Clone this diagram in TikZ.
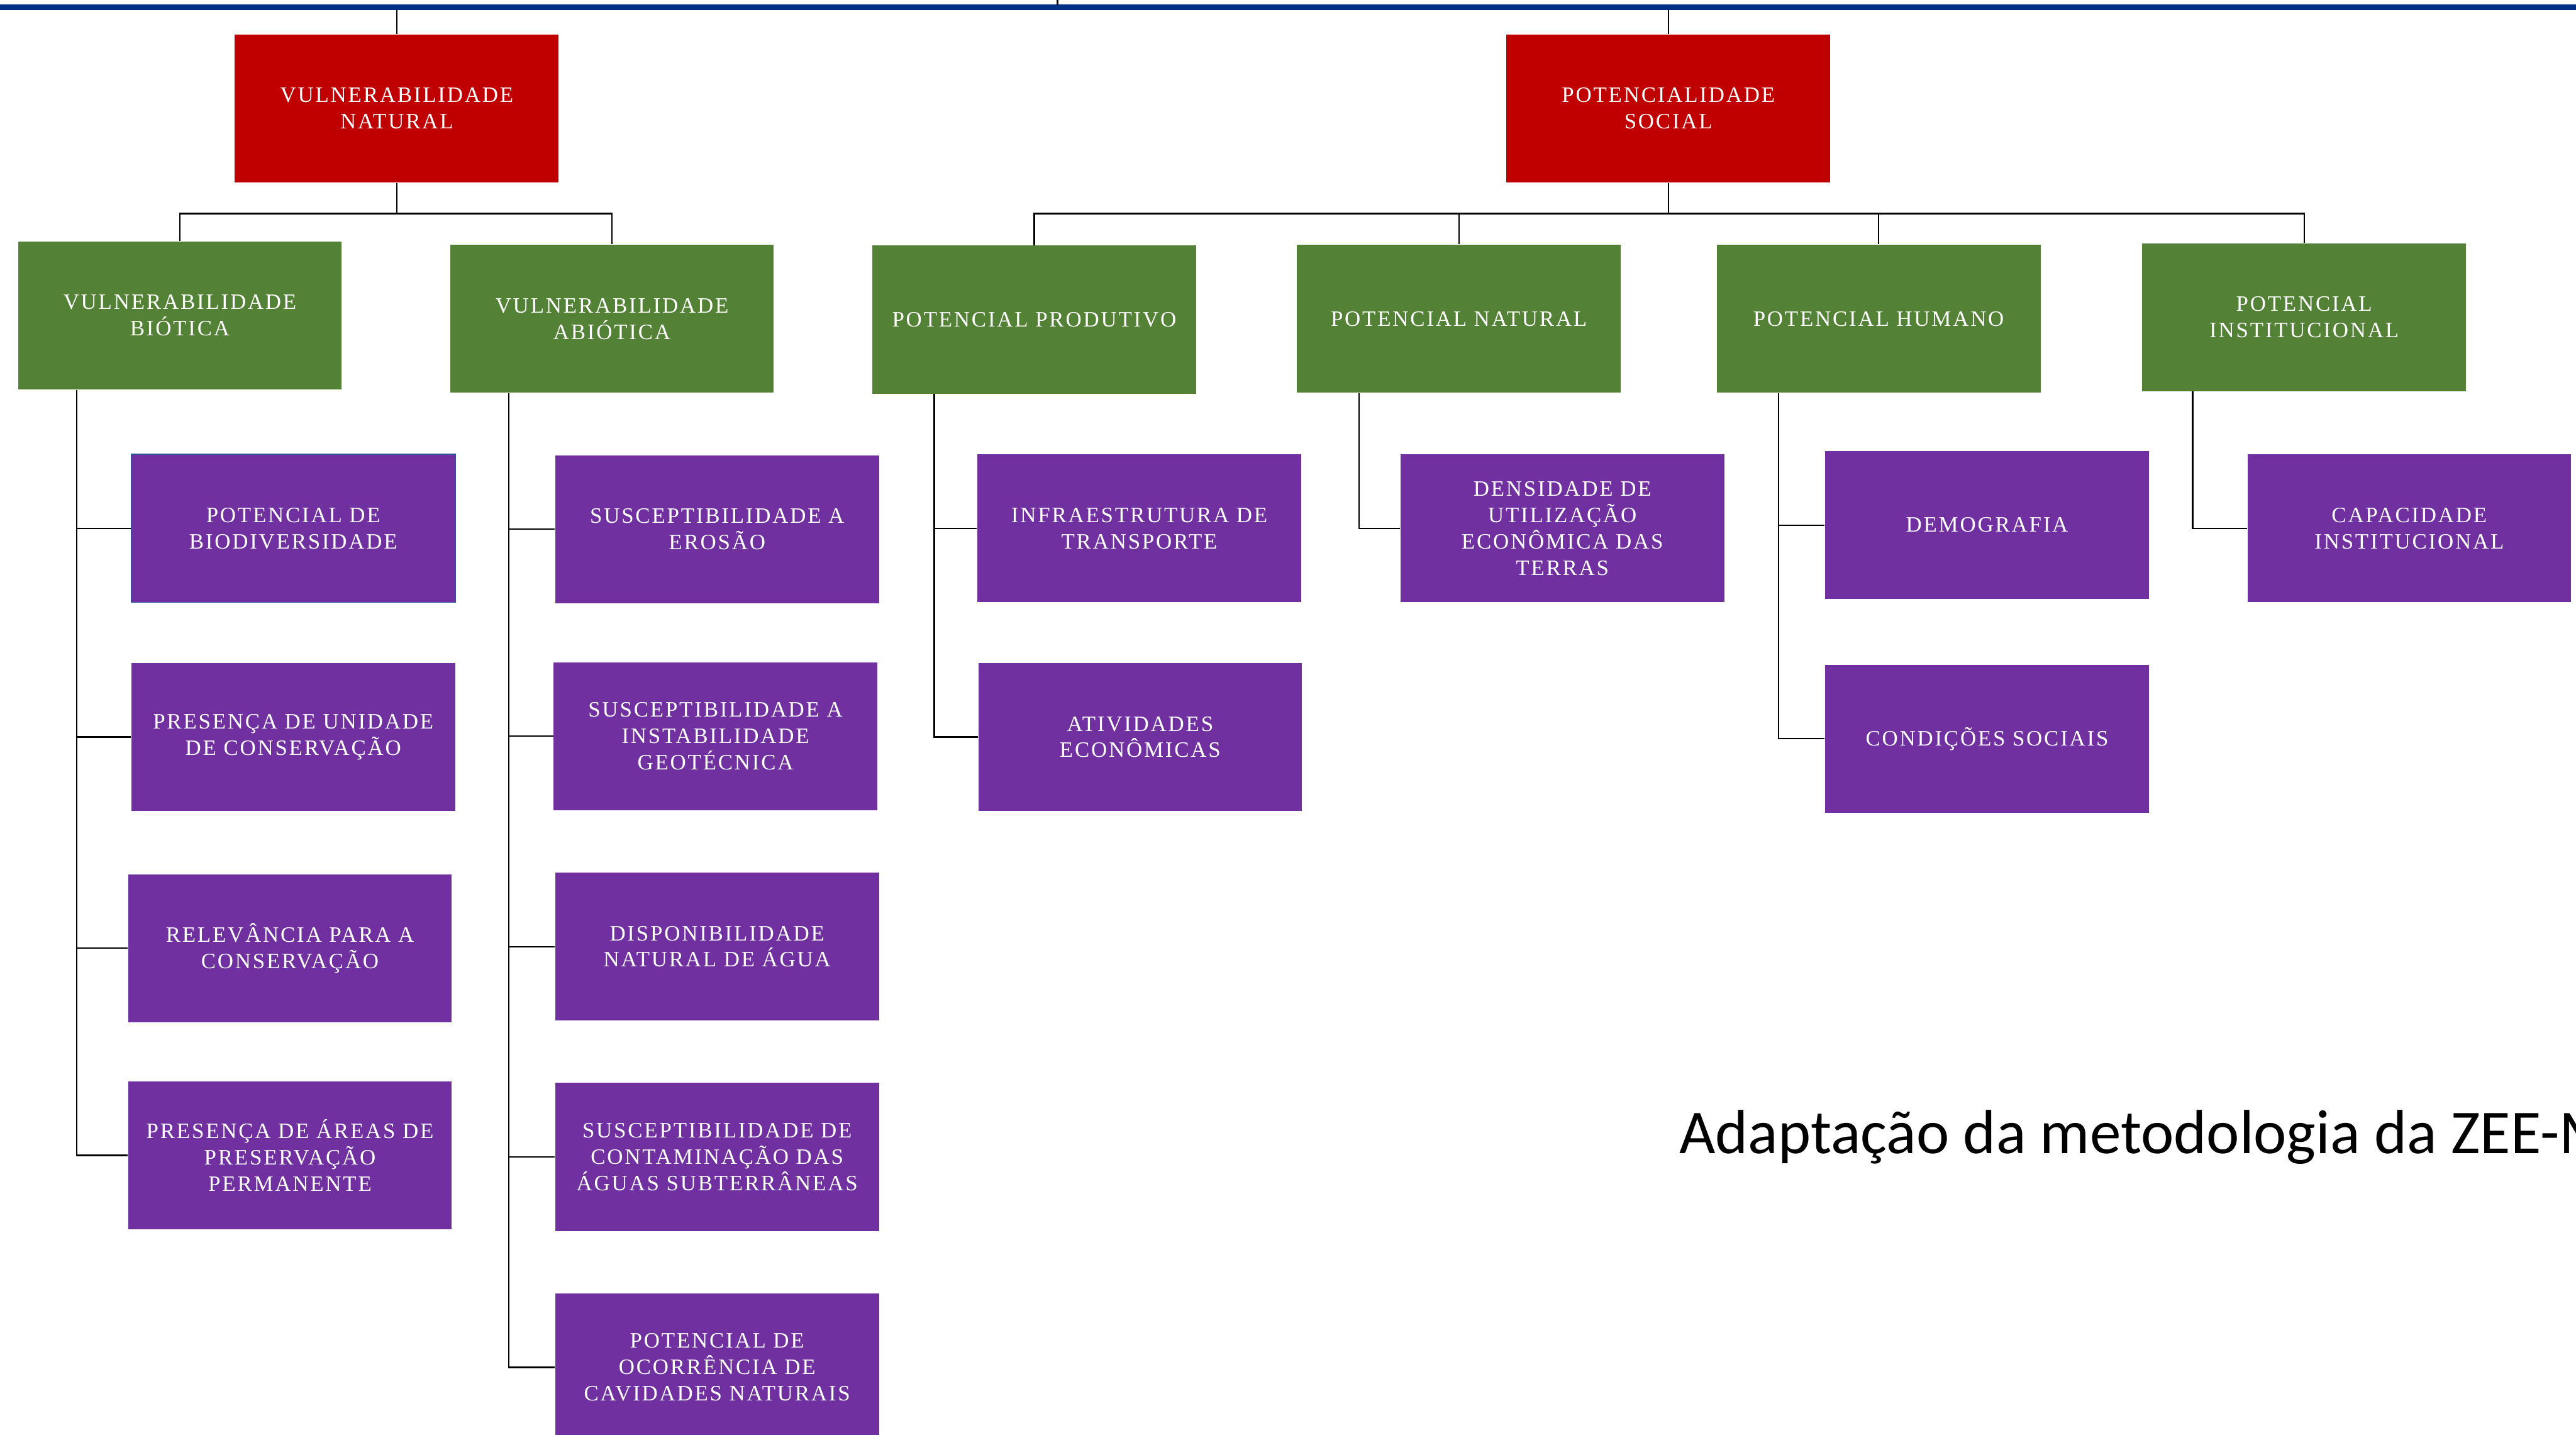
\documentclass[tikz,border=0pt]{standalone}
\usepackage{fontspec}
\usepackage{tikz}
\usetikzlibrary{positioning,calc}
\setmainfont{Liberation Serif}
\newfontfamily\boxfont[LetterSpace=8]{Liberation Serif}
\newfontfamily\notefont{Carlito}
\definecolor{barblue}{HTML}{002F87}
\definecolor{topred}{HTML}{C00000}
\definecolor{midgreen}{HTML}{538135}
\definecolor{leafpurple}{HTML}{7030A0}
\definecolor{edgeblue}{HTML}{2F5597}

\begin{document}
\begin{tikzpicture}[x=0.025cm, y=-0.025cm,
        card/.style={minimum width=4.925cm, minimum height=2.25cm, inner sep=0pt,
            align=center, text=white, font=\boxfont\fontsize{9.5}{11.4}\selectfont},
        topcard/.style={card, fill=topred},
        midcard/.style={card, fill=midgreen},
        leafcard/.style={card, fill=leafpurple},
        link/.style={line width=0.6pt, black}]
        \clip (0,0) rectangle (1568,873);
        \fill[white] (0,0) rectangle (1568,873);

        % Top bar
        \fill[barblue] (0,2.8) rectangle (1568,6);
        \coordinate (barbase) at (0,6);
        \coordinate (tickbot) at (643.7,3);
        \draw[link] (tickbot) -- (643.7,0);

        % Natural branch
        \node[topcard] (vn) at (241.5,66) {VULNERABILIDADE\\NATURAL};
        \node[midcard] (vb) at (109.5,192) {VULNERABILIDADE\\BIÓTICA};
        \node[midcard] (va) at (372.5,194) {VULNERABILIDADE\\ABIÓTICA};

        \node[leafcard, draw=edgeblue, line width=0.5pt] (bio) at (178.5,321.5) {POTENCIAL DE\\BIODIVERSIDADE};
        \node[leafcard] (uc) at (178.5,448.5) {PRESENÇA DE UNIDADE\\DE CONSERVAÇÃO};
        \node[leafcard] (rel) at (176.5,577) {RELEVÂNCIA PARA A\\CONSERVAÇÃO};
        \node[leafcard] (app) at (176.5,703) {PRESENÇA DE ÁREAS DE\\PRESERVAÇÃO\\PERMANENTE};

        \node[leafcard] (ero) at (436.5,322) {SUSCEPTIBILIDADE A\\EROSÃO};
        \node[leafcard] (geo) at (435.5,448) {SUSCEPTIBILIDADE A\\INSTABILIDADE\\GEOTÉCNICA};
        \node[leafcard] (agua) at (436.5,576) {DISPONIBILIDADE\\NATURAL DE ÁGUA};
        \node[leafcard] (cont) at (436.5,704) {SUSCEPTIBILIDADE DE\\CONTAMINAÇÃO DAS\\ÁGUAS SUBTERRÂNEAS};
        \node[leafcard] (cav) at (436.5,832) {POTENCIAL DE\\OCORRÊNCIA DE\\CAVIDADES NATURAIS};

        % Social branch
        \node[topcard] (ps) at (1015.5,66) {POTENCIALIDADE\\SOCIAL};
        \node[midcard] (pp) at (629.5,194.5) {POTENCIAL PRODUTIVO};
        \node[midcard] (pn) at (888,194) {POTENCIAL NATURAL};
        \node[midcard] (ph) at (1143.5,194) {POTENCIAL HUMANO};
        \node[midcard] (pi) at (1402.5,193) {POTENCIAL\\INSTITUCIONAL};

        \node[leafcard] (inf) at (693.5,321.5) {INFRAESTRUTURA DE\\TRANSPORTE};
        \node[leafcard] (atv) at (694,448.5) {ATIVIDADES\\ECONÔMICAS};
        \node[leafcard] (dens) at (951,321.5) {DENSIDADE DE\\UTILIZAÇÃO\\ECONÔMICA DAS\\TERRAS};
        \node[leafcard] (dem) at (1209.5,319.5) {DEMOGRAFIA};
        \node[leafcard] (cond) at (1209.5,449.5) {CONDIÇÕES SOCIAIS};
        \node[leafcard] (cap) at (1466.5,321.5) {CAPACIDADE\\INSTITUCIONAL};

        % Links to the bar
        \draw[link] (vn.north) -- (vn.north |- barbase);
        \draw[link] (ps.north) -- (ps.north |- barbase);

        % Links to the second level
        \coordinate (busN) at (241.5,130);
        \draw[link] (vn.south) -- (busN);
        \foreach \m in {vb,va} \draw[link] (busN) -| (\m.north);
        \coordinate (busS) at (1015.5,130);
        \draw[link] (ps.south) -- (busS);
        \foreach \m in {pp,pn,ph,pi} \draw[link] (busS) -| (\m.north);

        % Links to the leaves
        \coordinate (tb) at ($(vb.south west)+(36,0)$);
        \foreach \c in {bio,uc,rel,app} \draw[link] (tb) |- (\c.west);
        \coordinate (ta) at ($(va.south west)+(36,0)$);
        \foreach \c in {ero,geo,agua,cont,cav} \draw[link] (ta) |- (\c.west);
        \coordinate (tp) at ($(pp.south west)+(38,0)$);
        \foreach \c in {inf,atv} \draw[link] (tp) |- (\c.west);
        \coordinate (tn) at ($(pn.south west)+(38,0)$);
        \draw[link] (tn) |- (dens.west);
        \coordinate (th) at ($(ph.south west)+(38,0)$);
        \foreach \c in {dem,cond} \draw[link] (th) |- (\c.west);
        \coordinate (ti) at ($(pi.south west)+(31,0)$);
        \draw[link] (ti) |- (cap.west);

        % Note
        \node[anchor=base west, inner sep=0pt, font=\notefont\fontsize{27}{32}\selectfont] (note) at (1022,702) {Adaptação da metodologia da ZEE-M};
    \end{tikzpicture}
\end{document}
